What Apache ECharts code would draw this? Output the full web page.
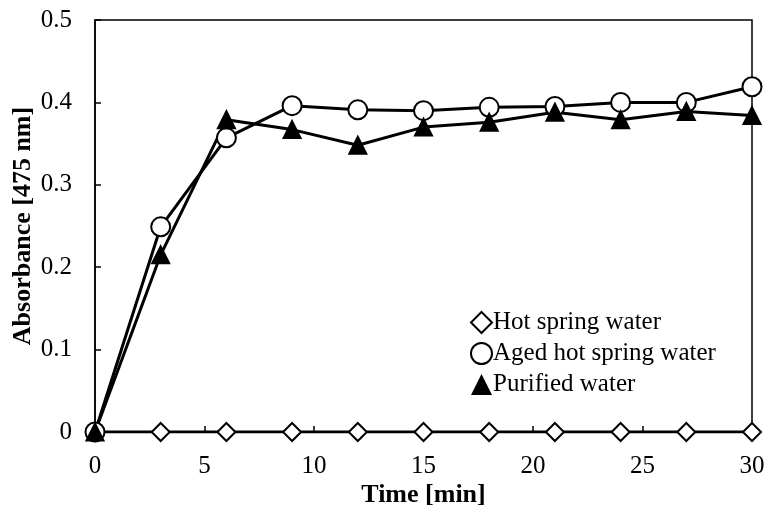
<!DOCTYPE html>
<html>
<head>
<meta charset="utf-8">
<script src="https://cdn.jsdelivr.net/npm/echarts@6/dist/echarts.min.js"></script>
<style>
  html, body { margin: 0; padding: 0; background: #fff; }
  #chart { width: 767px; height: 510px; }
</style>
</head>
<body>
<div id="chart"></div>
<script>
// data
var times = [0, 3, 6, 9, 12, 15, 18, 21, 24, 27, 30];
var hotSpring = [0, 0, 0, 0, 0, 0, 0, 0, 0, 0, 0];
var agedHotSpring = [0, 0.249, 0.357, 0.396, 0.391, 0.390, 0.394, 0.395, 0.400, 0.400, 0.419];
var purified = [0, 0.215, 0.379, 0.367, 0.348, 0.370, 0.376, 0.388, 0.379, 0.389, 0.384];
var seriesNames = ['Hot spring water', 'Aged hot spring water', 'Purified water'];

var FONT = '"Liberation Serif", "Times New Roman", serif';

function pairs(vals) {
  return times.map(function (t, i) { return [t, vals[i]]; });
}

function makeSeries(name, vals, symbol, size, filled) {
  return {
    name: name,
    type: 'line',
    data: pairs(vals),
    symbol: symbol,
    symbolSize: size,
    showSymbol: true,
    lineStyle: { color: '#000', width: 3 },
    itemStyle: { color: filled ? '#000' : '#fff', borderColor: '#000', borderWidth: 2 },
    emphasis: { disabled: true }
  };
}

var chart = echarts.init(document.getElementById('chart'), null, { renderer: 'canvas' });
chart.setOption({
  animation: false,
  backgroundColor: '#fff',
  grid: {
    left: 95, right: 15, top: 20, bottom: 78, outerBoundsMode: 'none',
    show: true, borderColor: '#000', borderWidth: 1.5
  },
  legend: {
    left: 465, top: 305, orient: 'vertical', itemGap: 6,
    itemWidth: 21, itemHeight: 21,
    textStyle: { fontFamily: FONT, fontSize: 25, lineHeight: 25, color: '#000', padding: [0, 0, 0, -4] },
    data: [
      { name: seriesNames[0], icon: 'diamond', itemStyle: { color: '#fff', borderColor: '#000', borderWidth: 2 } },
      { name: seriesNames[1], icon: 'circle', itemStyle: { color: '#fff', borderColor: '#000', borderWidth: 2 } },
      { name: seriesNames[2], icon: 'triangle', itemStyle: { color: '#000', borderColor: '#000', borderWidth: 0 } }
    ]
  },
  xAxis: {
    type: 'value', min: 0, max: 30, interval: 5,
    name: 'Time [min]', nameLocation: 'middle', nameGap: 50, nameMoveOverlap: false,
    nameTextStyle: { fontFamily: FONT, fontSize: 26, fontWeight: 'bold', color: '#000' },
    axisLine: { show: true, lineStyle: { color: '#000', width: 1.5 } },
    axisTick: { show: true, inside: true, length: 6, lineStyle: { color: '#000', width: 1.5 } },
    axisLabel: { fontFamily: FONT, fontSize: 25, color: '#000', margin: 22 },
    splitLine: { show: false }
  },
  yAxis: {
    type: 'value', min: 0, max: 0.5, interval: 0.1,
    name: 'Absorbance [475 nm]', nameLocation: 'middle', nameGap: 59, nameMoveOverlap: false,
    nameTextStyle: { fontFamily: FONT, fontSize: 26, fontWeight: 'bold', color: '#000' },
    axisLine: { show: true, lineStyle: { color: '#000', width: 1.5 } },
    axisTick: { show: true, inside: true, length: 6, lineStyle: { color: '#000', width: 1.5 } },
    axisLabel: { fontFamily: FONT, fontSize: 25, color: '#000', margin: 23,
      formatter: function (v) { return v === 0 ? '0' : v.toFixed(1); } },
    splitLine: { show: false }
  },
  series: [
    makeSeries(seriesNames[0], hotSpring, 'diamond', 18, false),
    makeSeries(seriesNames[1], agedHotSpring, 'circle', 19, false),
    makeSeries(seriesNames[2], purified, 'triangle', 17, true)
  ]
});
</script>
</body>
</html>
